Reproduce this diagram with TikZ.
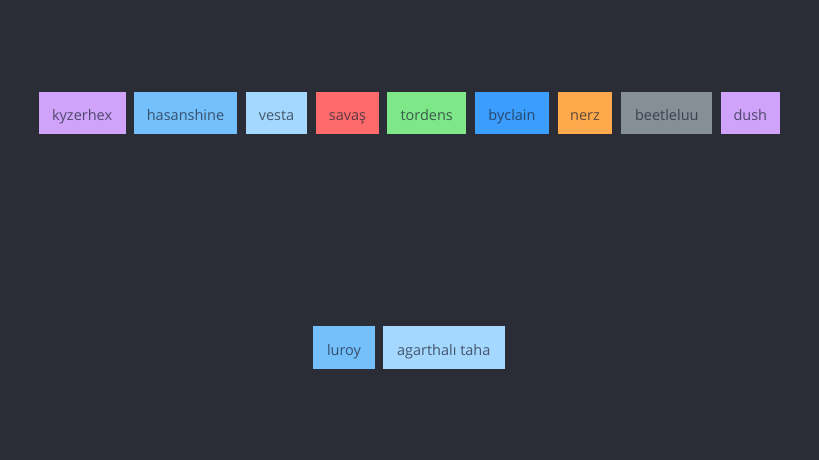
\documentclass[tikz,border=0pt]{standalone}
\usepackage{fontspec}
\setmainfont{Open Sans}
\definecolor{bg}{HTML}{2A2D36}
\definecolor{cpurple}{HTML}{D0A3FB}
\definecolor{cblue}{HTML}{74C0FC}
\definecolor{clight}{HTML}{A5D8FF}
\definecolor{cred}{HTML}{FF6B6B}
\definecolor{cgreen}{HTML}{7EE787}
\definecolor{cdeep}{HTML}{3B9EFF}
\definecolor{corange}{HTML}{FFA94D}
\definecolor{cgray}{HTML}{868E96}
\definecolor{ctext}{HTML}{1E2433}
\tikzset{
  tag/.style={rectangle, inner sep=0pt, minimum height=42pt, text=ctext, text opacity=0.72,
    text height=15.4pt, text depth=0pt,
    font=\fontsize{14.5}{16}\selectfont},
}
\begin{document}
\begin{tikzpicture}[x=1pt,y=1pt]
\fill[bg] (0,0) rectangle (819,460);
\useasboundingbox (0,0) rectangle (819,460);
\node[tag, fill=cpurple, minimum width=87.2pt] (kyzerhex) at (82.1,347) {kyzerhex};
\node[tag, fill=cblue, minimum width=103pt] (hasanshine) at (185.5,347) {hasanshine};
\node[tag, fill=clight, minimum width=61pt] (vesta) at (276.5,347) {vesta};
\node[tag, fill=cred, minimum width=63pt] (savas) at (347.5,347) {savaş};
\node[tag, fill=cgreen, minimum width=78.7pt] (tordens) at (426.7,347) {tordens};
\node[tag, fill=cdeep, minimum width=74.6pt] (byclain) at (512,347) {byclain};
\node[tag, fill=corange, minimum width=54.6pt] (nerz) at (585,347) {nerz};
\node[tag, fill=cgray, minimum width=91pt] (beetleluu) at (666.8,347) {beetleluu};
\node[tag, fill=cpurple, minimum width=59.3pt] (dush) at (750.3,347) {dush};
\node[tag, fill=cblue, minimum width=61.4pt, minimum height=43pt] (luroy) at (344,112.5) {luroy};
\node[tag, fill=clight, minimum width=122.3pt, minimum height=43pt] (agartha) at (443.8,112.5) {agarthalı taha};
\end{tikzpicture}
\end{document}
